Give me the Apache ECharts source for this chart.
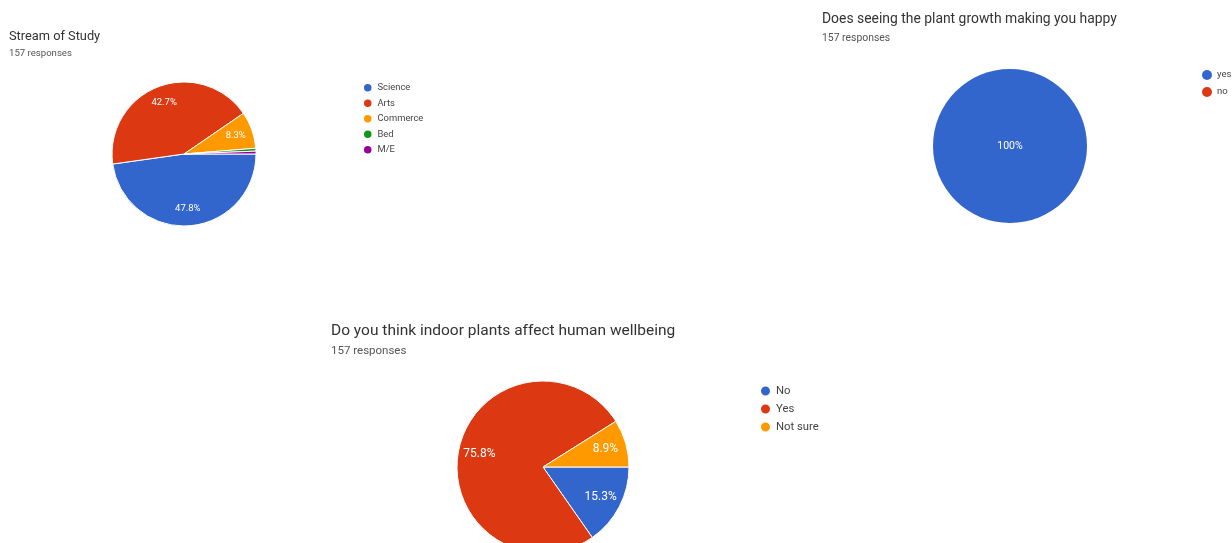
<!DOCTYPE html>
<html>
<head>
<meta charset="utf-8">
<script src="https://cdn.jsdelivr.net/npm/echarts@6/dist/echarts.min.js"></script>
<style>
  html, body { margin: 0; padding: 0; background: #ffffff; }
  #chart { width: 1232px; height: 543px; }
</style>
</head>
<body>
<div id="chart"></div>
<script>
// Survey responses (counts out of 157)
const streamNames = ['Science', 'Arts', 'Commerce', 'Bed', 'M/E'];
const streamCounts = [75, 67, 13, 1, 1];

const happyNames = ['yes', 'no'];
const happyCounts = [157, 0];

const wellbeingNames = ['No', 'Yes', 'Not sure'];
const wellbeingCounts = [24, 119, 14];

const streamColors = ['#3366cc', '#dc3912', '#ff9900', '#109618', '#990099'];
const happyColors = ['#3366cc', '#dc3912'];
const wellbeingColors = ['#3366cc', '#dc3912', '#ff9900'];

const FONT = 'Roboto, "Noto Sans", sans-serif';

function toData(names, values, colors) {
  return names.map((n, i) => ({ name: n, value: values[i], itemStyle: { color: colors[i] } }));
}

// Percent labels are hidden on very thin slices
function pctLabel(p) {
  return p.percent < 5 ? '' : p.percent + '%';
}

// A pie plus a transparent ring on top of it that carries the labels,
// so the percentages sit out toward the rim
function pieWithLabels(names, values, colors, center, r, labelSize) {
  const base = {
    type: 'pie',
    center: center,
    startAngle: 0,
    clockwise: true,
    percentPrecision: 1,
    animation: false,
    avoidLabelOverlap: false
  };
  return [
    Object.assign({}, base, {
      radius: [0, r],
      data: toData(names, values, colors),
      itemStyle: { borderColor: '#ffffff', borderWidth: 1 },
      label: { show: false },
      labelLine: { show: false },
      emphasis: { scale: false }
    }),
    Object.assign({}, base, {
      radius: [r * 0.44, r],
      silent: true,
      data: names.map((n, i) => ({ name: n, value: values[i] })),
      itemStyle: { color: 'rgba(0,0,0,0)', borderWidth: 0 },
      label: {
        show: true, position: 'inside', formatter: pctLabel,
        color: '#ffffff', fontSize: labelSize, fontFamily: FONT
      },
      labelLine: { show: false },
      emphasis: { disabled: true }
    })
  ];
}

function titleAt(text, left, top, size, color) {
  return {
    text: text, left: left, top: top, padding: 0,
    textStyle: { fontSize: size, fontWeight: 'normal', color: color, fontFamily: FONT }
  };
}

function legendAt(names, left, top, icon, gap, size, lineH) {
  return {
    data: names, orient: 'vertical', left: left, top: top, padding: 0,
    icon: 'circle', itemWidth: icon, itemHeight: icon, itemGap: gap,
    selectedMode: false,
    textStyle: { fontSize: size, lineHeight: lineH, color: '#444444', fontFamily: FONT }
  };
}

const chart = echarts.init(document.getElementById('chart'), null, { renderer: 'canvas' });

const series = []
  .concat(pieWithLabels(streamNames, streamCounts, streamColors, [184, 154], 72, 9.5))
  .concat(pieWithLabels(wellbeingNames, wellbeingCounts, wellbeingColors, [543, 467], 86, 12));

series.push({
  type: 'pie',
  center: [1010, 146],
  radius: [0, 77],
  startAngle: 0,
  percentPrecision: 1,
  animation: false,
  data: toData(happyNames, happyCounts, happyColors),
  itemStyle: { borderWidth: 0 },
  label: {
    show: true, position: 'center', formatter: pctLabel,
    color: '#ffffff', fontSize: 10.5, fontFamily: FONT
  },
  labelLine: { show: false },
  emphasis: { scale: false }
});

chart.setOption({
  backgroundColor: '#ffffff',
  animation: false,
  title: [
    titleAt('Stream of Study', 9, 30, 12.8, '#333333'),
    titleAt('157 responses', 9, 48.5, 9.6, '#555555'),
    titleAt('Does seeing the plant growth making you happy', 822, 12.5, 13.9, '#333333'),
    titleAt('157 responses', 822, 33, 10.4, '#555555'),
    titleAt('Do you think indoor plants affect human wellbeing', 331, 323, 15.5, '#333333'),
    titleAt('157 responses', 331, 345, 11.5, '#555555')
  ],
  legend: [
    legendAt(streamNames, 362, 82, 9.5, 4, 9.4, 11),
    legendAt(happyNames, 1202, 69.5, 10, 6, 9.5, 11),
    legendAt(wellbeingNames, 759, 384.5, 11, 5, 11.3, 12)
  ],
  series: series
});
</script>
</body>
</html>
